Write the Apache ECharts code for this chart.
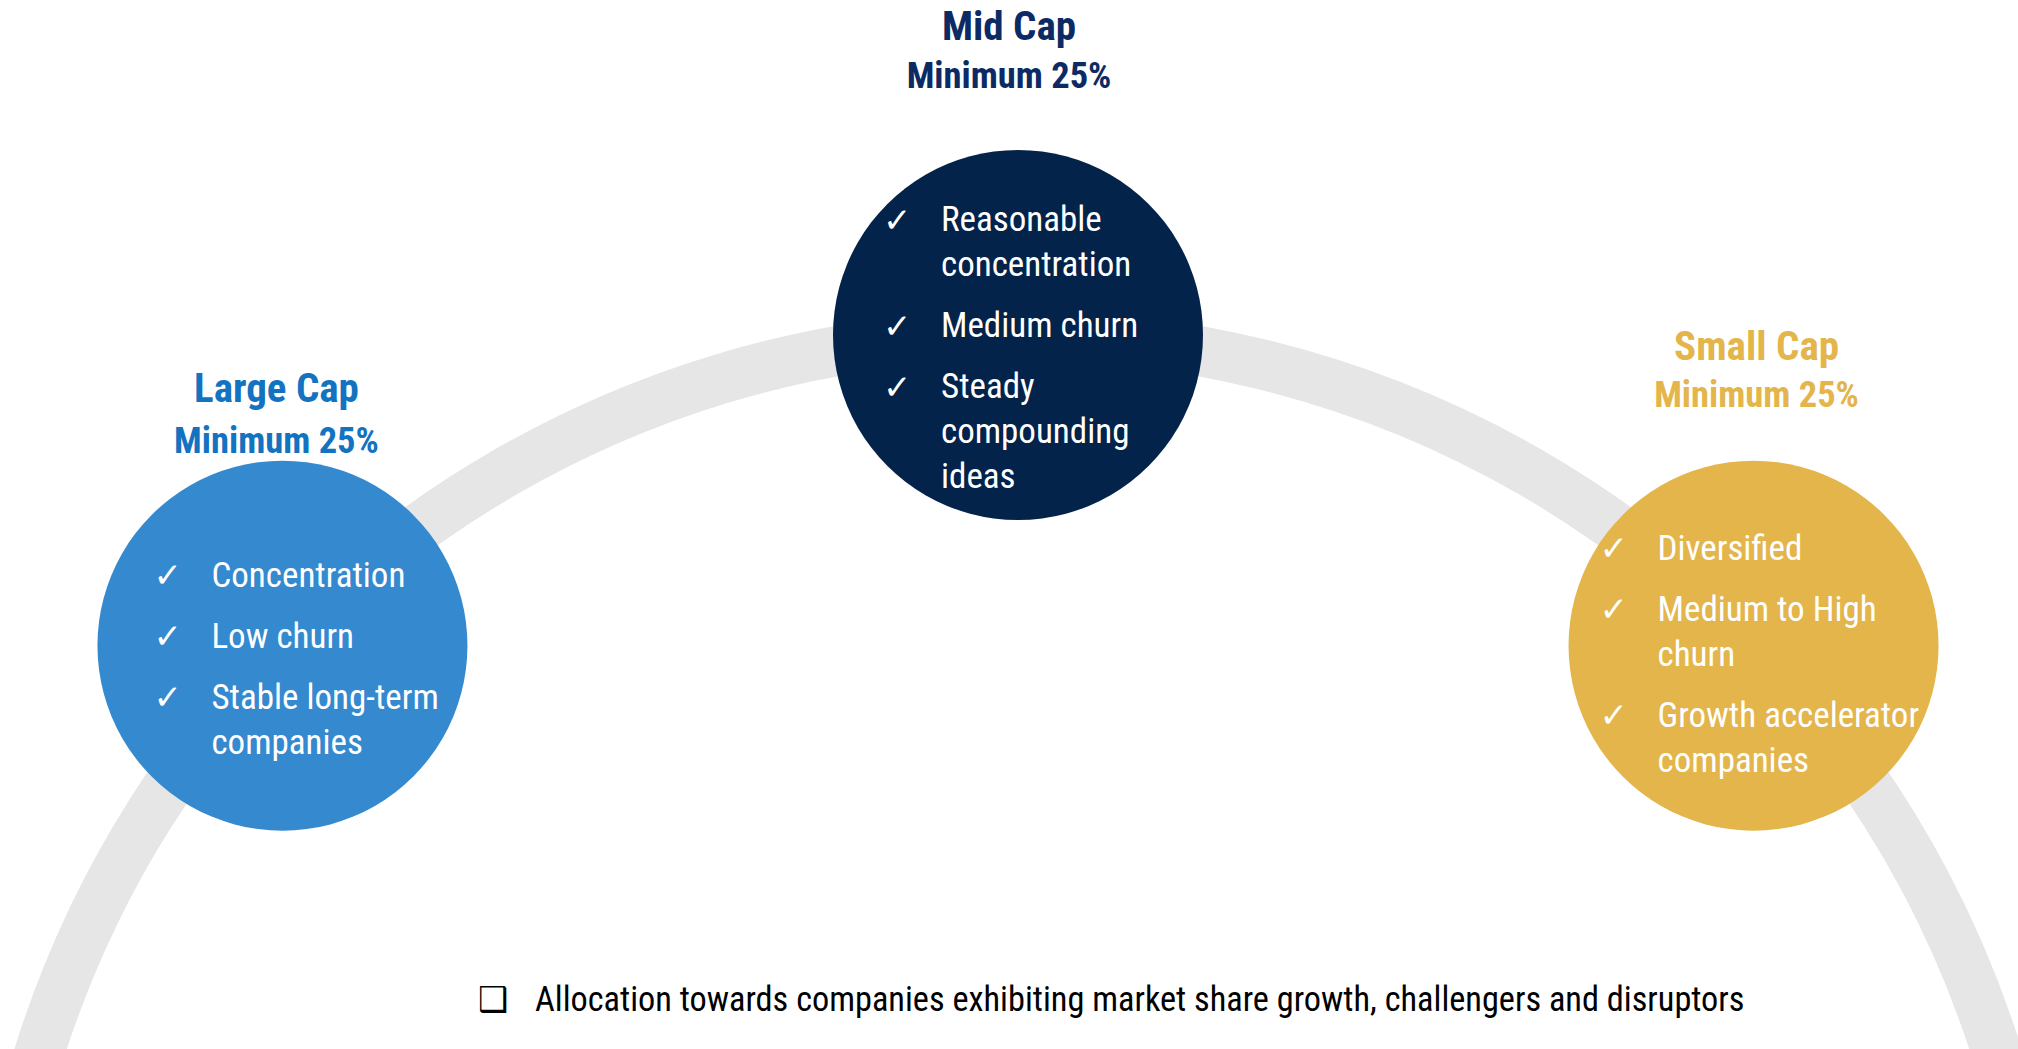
<!DOCTYPE html>
<html>
<head>
<meta charset="utf-8">
<title>Market cap allocation</title>
<script src="https://cdn.jsdelivr.net/npm/echarts@6/dist/echarts.min.js"></script>
<style>
  html, body { margin: 0; padding: 0; background: #fff; }
  #chart { width: 2018px; height: 1049px; }
</style>
</head>
<body>
<div id="chart"></div>
<script>
// data
const categories = ['Large Cap', 'Mid Cap', 'Small Cap'];
const minimums = [25, 25, 25];
const features = [
  [['Concentration'], ['Low churn'], ['Stable long-term', 'companies']],
  [['Reasonable', 'concentration'], ['Medium churn'], ['Steady', 'compounding', 'ideas']],
  [['Diversified'], ['Medium to High', 'churn'], ['Growth accelerator', 'companies']]
];
const note = 'Allocation towards companies exhibiting market share growth, challengers and disruptors';

// layout / style
const narrow = "'Roboto Condensed', 'Liberation Sans Narrow', sans-serif";
const slotAngles = [135.8, 90, 44.2];
const circleColors = ['#3589cf', '#03234a', '#e3b54b'];
const titleColors = ['#1373c0', '#0c2a63', '#e3b54b'];
const bulletPos = [[56, 92], [50, 47], [31, 65]];
const titleLift = [181, 236, 227];
const titleGap = [60, 52, 52];
const titleShift = [-6, -9, 3];

function bulletText(items) {
  return items.map(function (lines) {
    return lines.map(function (l, j) {
      return (j === 0 ? '{chk|✓}' : '{ind| }') + '{txt|' + l + '}';
    }).join('\n');
  }).join('\n{gap| }\n');
}

const chart = echarts.init(document.getElementById('chart'), null, { renderer: 'svg' });

chart.setOption({
  backgroundColor: '#fff',
  animation: false,
  title: {
    text: '{box|❑}{txt|' + note + '}',
    left: 478,
    top: 974,
    padding: 0,
    textStyle: {
      rich: {
        box: { fontFamily: 'DejaVu Sans', fontSize: 34, width: 57, lineHeight: 50, color: '#000' },
        txt: { fontFamily: narrow, fontWeight: 'normal', fontSize: 34.3, lineHeight: 50, color: '#000' }
      }
    }
  },
  polar: { center: [1018, 1361], radius: 1026 },
  angleAxis: {
    type: 'value', min: 0, max: 360, startAngle: 0, clockwise: false,
    axisLine: { show: true, lineStyle: { color: '#e6e6e6', width: 50 } },
    axisTick: { show: false }, axisLabel: { show: false }, splitLine: { show: false }
  },
  radiusAxis: { type: 'value', min: 0, max: 1, show: false },
  series: [
    {
      name: 'caps',
      type: 'scatter',
      coordinateSystem: 'polar',
      symbolSize: 370,
      silent: true,
      z: 3,
      data: categories.map(function (c, i) {
        return {
          name: c,
          value: [1, slotAngles[i]],
          itemStyle: { color: circleColors[i], opacity: 1 },
          label: {
            show: true,
            position: bulletPos[i],
            formatter: bulletText(features[i]),
            rich: {
              chk: { fontFamily: 'DejaVu Sans', fontWeight: 'bold', fontSize: 34, width: 58, lineHeight: 45, color: '#fff' },
              ind: { fontSize: 10, width: 58, lineHeight: 45 },
              txt: { fontFamily: narrow, fontSize: 35, lineHeight: 45, color: '#fff' },
              gap: { fontSize: 10, lineHeight: 16 }
            }
          }
        };
      })
    },
    {
      name: 'titles',
      type: 'scatter',
      coordinateSystem: 'polar',
      symbolSize: 2,
      silent: true,
      z: 4,
      itemStyle: { color: 'rgba(0,0,0,0)', opacity: 1 },
      data: categories.map(function (c, i) {
        return {
          name: c,
          value: [1, slotAngles[i]],
          label: {
            show: true,
            opacity: 1,
            position: 'top',
            distance: titleLift[i],
            offset: [titleShift[i], 0],
            formatter: '{t|' + c + '}\n{s|Minimum ' + minimums[i] + '%}',
            rich: {
              t: { fontFamily: narrow, fontWeight: 'bold', fontSize: 41, lineHeight: titleGap[i], color: titleColors[i] },
              s: { fontFamily: narrow, fontWeight: 'bold', fontSize: 36.5, lineHeight: 46, color: titleColors[i] }
            }
          }
        };
      })
    }
  ]
});
</script>
</body>
</html>
